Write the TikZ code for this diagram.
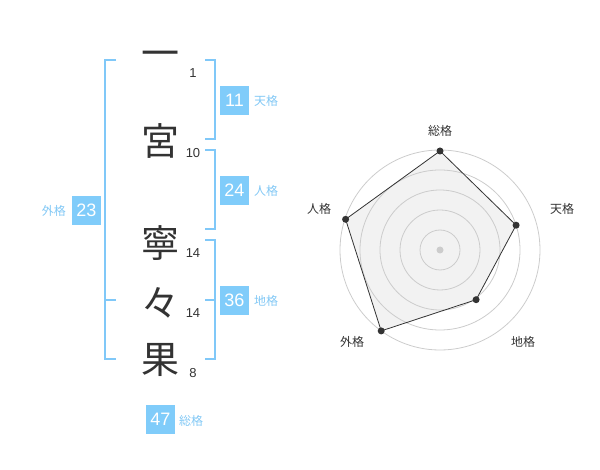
\documentclass[tikz,border=0pt]{standalone}
\usepackage{fontspec}
\setmainfont{Liberation Sans}
\newfontfamily\jp{Noto Sans CJK JP}
\definecolor{bracketblue}{RGB}{128,200,248}
\definecolor{boxblue}{RGB}{128,204,250}
\definecolor{labelblue}{RGB}{130,200,245}
\definecolor{ink}{RGB}{51,51,51}
\definecolor{ringgray}{RGB}{204,204,204}
\definecolor{polyfill}{RGB}{242,242,242}
\begin{document}
\begin{tikzpicture}[x=1pt,y=-1pt,
  bracket/.style={draw=bracketblue,line width=2pt},
  kanji/.style={inner sep=0pt,text=ink,font=\jp\fontsize{38}{38}\selectfont},
  strokes/.style={inner sep=0pt,text=ink,font=\fontsize{13}{13}\selectfont},
  numbox/.style={fill=boxblue,text=white,minimum size=29pt,inner sep=0pt,font=\fontsize{18}{18}\selectfont},
  kaku/.style={inner sep=0pt,text=labelblue,font=\jp\fontsize{12}{12}\selectfont},
  axislabel/.style={inner sep=0pt,text=ink,font=\jp\fontsize{12}{12}\selectfont},
  ring/.style={draw=ringgray,line width=0.8pt},
  vertex/.style={circle,fill=ink,inner sep=0pt,minimum size=7pt}]
\useasboundingbox (0,0) rectangle (600,470);
% name characters
\node[kanji] (c1) at (160,59) {一};
\node[kanji] (c2) at (160,141) {宮};
\node[kanji] (c3) at (160,243) {寧};
\node[kanji] (c4) at (160,303) {々};
\node[kanji] (c5) at (160,360) {果};
% stroke counts
\node[strokes] (s1) at (193,73) {1};
\node[strokes] (s2) at (193,153) {10};
\node[strokes] (s3) at (193,253) {14};
\node[strokes] (s4) at (193,313) {14};
\node[strokes] (s5) at (193,373) {8};
% brackets
\draw[bracket] (116,60) -- (105,60) -- (105,359) -- (116,359);
\draw[bracket] (105,300) -- (116,300);
\draw[bracket] (205,60) -- (215,60) -- (215,139) -- (205,139);
\draw[bracket] (205,150) -- (215,150) -- (215,229) -- (205,229);
\draw[bracket] (205,240) -- (215,240) -- (215,359) -- (205,359);
\draw[bracket] (205,300) -- (215,300);
% boxes
\node[numbox] (ten) at (234.5,100.5) {11};
\node[kaku,anchor=west] (tenl) at (254,101) {天格};
\node[numbox] (jin) at (234.5,190.5) {24};
\node[kaku,anchor=west] (jinl) at (254,191) {人格};
\node[numbox] (chi) at (234.5,300.5) {36};
\node[kaku,anchor=west] (chil) at (254,301) {地格};
\node[numbox] (gai) at (86.5,210.5) {23};
\node[kaku,anchor=east] (gail) at (66,211) {外格};
\node[numbox] (sou) at (160.5,419.5) {47};
\node[kaku,anchor=west] (soul) at (179,421) {総格};
% radar chart
\coordinate (o) at (440,250);
\coordinate (pS) at (440,151);
\coordinate (pT) at (516.1,225.2);
\coordinate (pC) at (476.1,299.7);
\coordinate (pG) at (381.2,330.9);
\coordinate (pJ) at (345.6,219.3);
\fill[polyfill] (pS) -- (pT) -- (pC) -- (pG) -- (pJ) -- cycle;
\foreach \r in {20,40,60,80,100} \draw[ring] (o) circle[radius=\r];
\draw[ink,line width=0.8pt] (pS) -- (pT) -- (pC) -- (pG) -- (pJ) -- cycle;
\fill[ringgray] (o) circle[radius=3.5];
\foreach \p in {pS,pT,pC,pG,pJ} \node[vertex] at (\p) {};
\node[axislabel] (lS) at (440,131) {総格};
\node[axislabel] (lT) at (562,209) {天格};
\node[axislabel] (lC) at (523,342) {地格};
\node[axislabel] (lG) at (352,342) {外格};
\node[axislabel] (lJ) at (319,209) {人格};
\end{tikzpicture}
\end{document}
